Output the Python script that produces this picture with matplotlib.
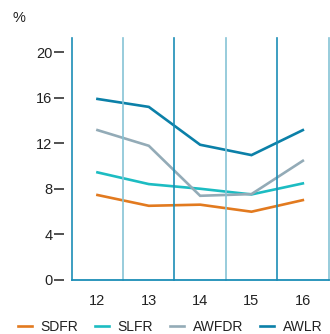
import numpy as np
import matplotlib.pyplot as plt

plt.rcParams['font.family'] = ['Liberation Sans', 'DejaVu Sans']

# data
years = ['12', '13', '14', '15', '16']
sdfr = [7.45, 6.5, 6.6, 5.98, 7.0]
slfr = [9.44, 8.41, 8.0, 7.5, 8.47]
awfdr = [13.16, 11.78, 7.38, 7.53, 10.46]
awlr = [15.9, 15.2, 11.87, 10.96, 13.16]

series = [('SDFR', sdfr, '#e27a1f'),
          ('SLFR', slfr, '#1cbcc2'),
          ('AWFDR', awfdr, '#93abb7'),
          ('AWLR', awlr, '#0b80a8')]

dark_blue = '#1b8db6'
light_blue = '#86c4d6'

fig = plt.figure(figsize=(3.30, 3.34), dpi=100)
ax = fig.add_axes([0.2175, 0.1626, 0.778, 0.7236])

x = np.arange(len(years))
handles = []
for name, vals, col in series:
    h, = ax.plot(x, vals, color=col, lw=1.9, solid_joinstyle='miter', zorder=2, label=name)
    handles.append(h)

# vertical separators between years, alternating colours
for i, xv in enumerate(np.arange(-0.5, len(years), 1.0)):
    ax.axvline(xv, color=dark_blue if i % 2 == 0 else light_blue, lw=1.2, zorder=3, clip_on=False)

ax.set_xlim(-0.5, len(years) - 0.5)
ax.set_ylim(0, 21.26)
ax.set_xticks(x)
ax.set_xticklabels(years)
ax.set_yticks(np.arange(0, 21, 4))
ax.tick_params(axis='x', length=0, pad=10, labelsize=10.5, labelcolor='#222222')
ax.tick_params(axis='y', length=7, width=1.1, pad=1.5, labelsize=10.5, color='#222222', labelcolor='#222222')

# spines (ticks sit a little left of the first separator)
ax.spines['top'].set_visible(False)
ax.spines['right'].set_visible(False)
ax.spines['left'].set_visible(False)
ax.spines['left'].set_position(('outward', 5.4))
ax.spines['bottom'].set_color(dark_blue)
ax.spines['bottom'].set_linewidth(1.3)
ax.spines['bottom'].set_zorder(4)

fig.text(0.038, 0.945, '%', fontsize=10.5, color='#222222', va='center')

fig.legend(handles=handles, loc='center left', bbox_to_anchor=(0.054, 0.022), ncol=4,
           frameon=False, fontsize=10, handlelength=1.0, handletextpad=0.63,
           columnspacing=1.22, borderaxespad=0, borderpad=0, labelcolor='#222222')

fig.savefig('out.png', dpi=100)
